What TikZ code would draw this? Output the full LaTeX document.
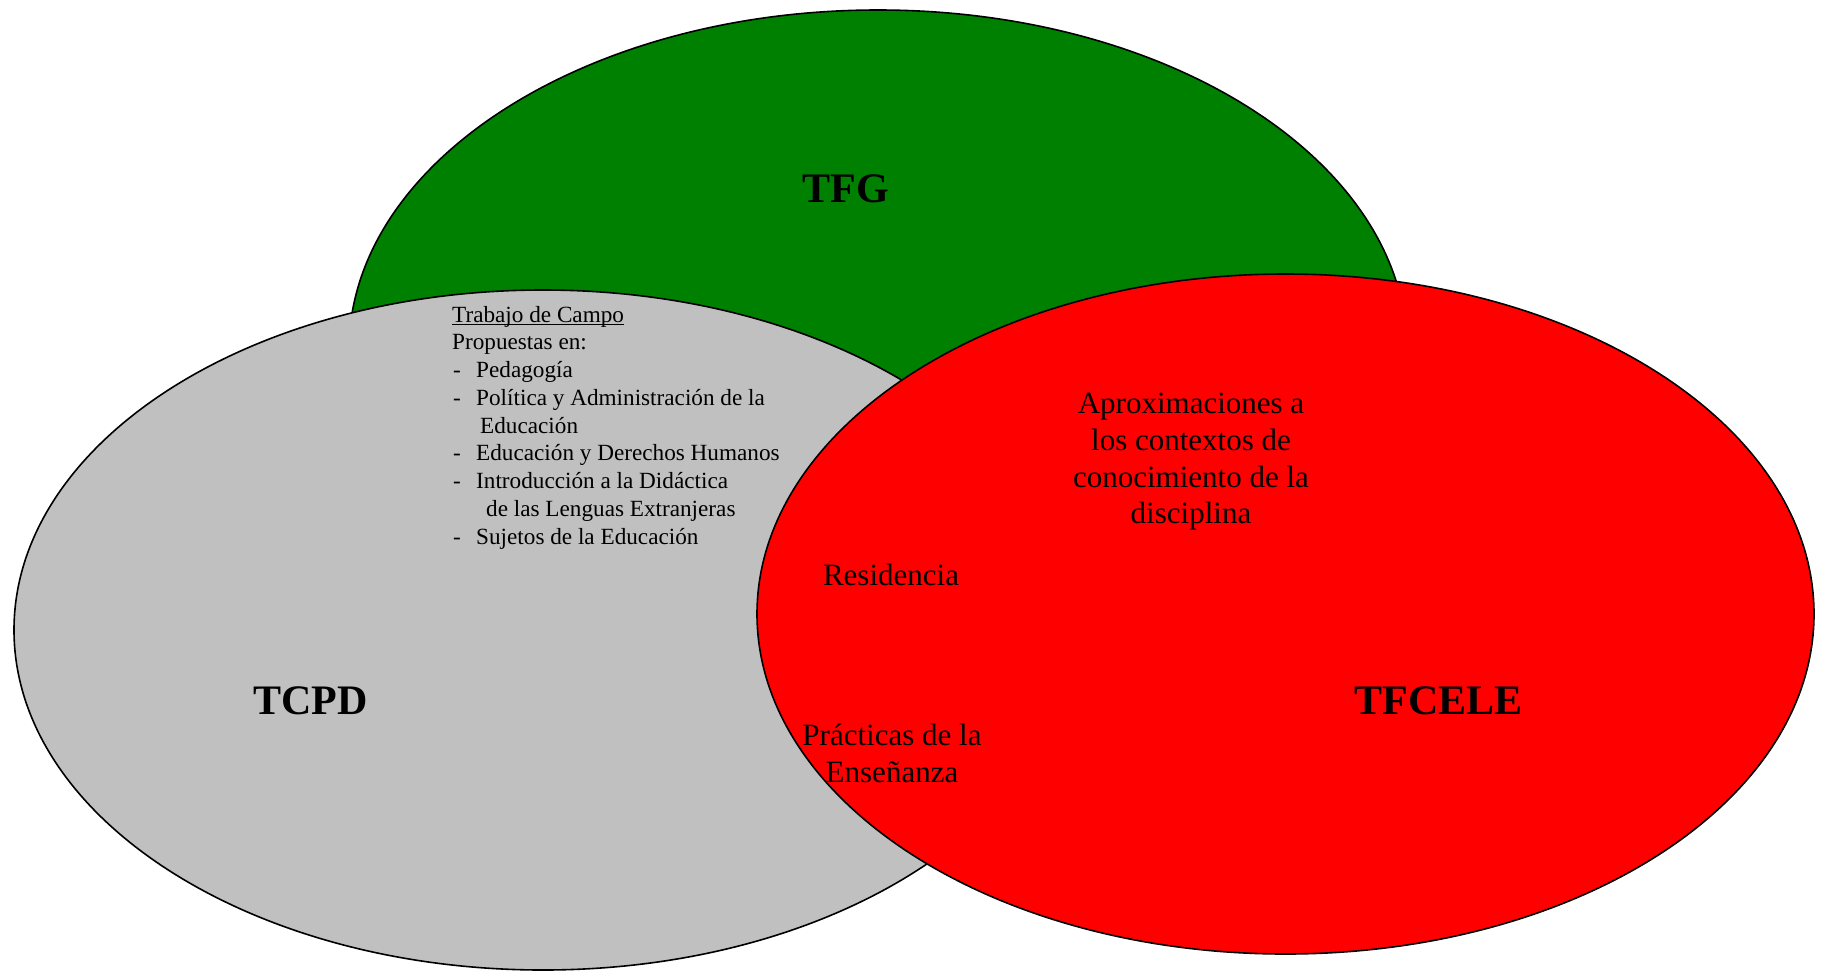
\documentclass[tikz,border=0pt]{standalone}
\usepackage{fontspec}
\setmainfont{Liberation Serif}
\definecolor{vgreen}{RGB}{0,128,0}
\definecolor{vgray}{RGB}{192,192,192}
\definecolor{vred}{RGB}{255,0,0}
\tikzset{
  venn/.style={draw=black, line width=1.6pt},
  biglabel/.style={inner sep=0pt, anchor=base, font=\fontsize{42}{48}\selectfont\bfseries},
  redtext/.style={inner sep=0pt, anchor=base, font=\fontsize{31}{37}\selectfont},
  smalltext/.style={inner sep=0pt, anchor=base west, font=\fontsize{23.2}{28}\selectfont},
}
\begin{document}
\begin{tikzpicture}[x=1pt, y=-1pt]
\useasboundingbox (0,0) rectangle (1823,970);
% circles
\fill[white] (0,0) rectangle (1823,970);
\draw[venn, fill=vgreen] (878,350) ellipse [x radius=529pt, y radius=340pt];
\draw[venn, fill=vgray] (543,630) ellipse [x radius=529pt, y radius=340pt];
\draw[venn, fill=vred] (1285.5,614) ellipse [x radius=528.5pt, y radius=340pt];
% big labels
\node[biglabel] (tfg) at (845.5,202) {TFG};
\node[biglabel] (tcpd) at (310.5,714) {TCPD};
\node[biglabel] (tfcele) at (1438.5,714) {TFCELE};
% gray list
\node[smalltext] (tc) at (452,322) {Trabajo de Campo};
\draw[line width=1.3pt] ([yshift=-2.6pt]tc.base west) -- ([yshift=-2.6pt]tc.base east);
\node[smalltext] (pe) at (452,349.75) {Propuestas en:};
\node[smalltext] (d1) at (453,377.5) {-};
\node[smalltext] (i1) at (476,377.5) {Pedagogía};
\node[smalltext] (d2) at (453,405.25) {-};
\node[smalltext] (i2) at (476,405.25) {Política y Administración de la};
\node[smalltext] (i2b) at (480,433) {Educación};
\node[smalltext] (d3) at (453,460.75) {-};
\node[smalltext] (i3) at (476,460.75) {Educación y Derechos Humanos};
\node[smalltext] (d4) at (453,488.5) {-};
\node[smalltext] (i4) at (476,488.5) {Introducción a la Didáctica};
\node[smalltext] (i4b) at (486,516.25) {de las Lenguas Extranjeras};
\node[smalltext] (d5) at (453,544) {-};
\node[smalltext] (i5) at (476,544) {Sujetos de la Educación};
% red texts
\node[redtext] (a1) at (1191,413) {Aproximaciones a};
\node[redtext] (a2) at (1191,450) {los contextos de};
\node[redtext] (a3) at (1191,487) {conocimiento de la};
\node[redtext] (a4) at (1191,523) {disciplina};
\node[redtext] (res) at (891,585) {Residencia};
\node[redtext] (pr1) at (892,745) {Prácticas de la};
\node[redtext] (pr2) at (892,782) {Enseñanza};
\end{tikzpicture}
\end{document}
